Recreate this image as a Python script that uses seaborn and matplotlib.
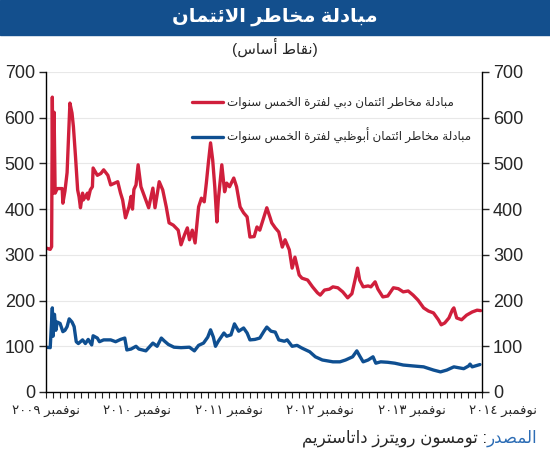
import numpy as np
import seaborn as sns
import matplotlib.pyplot as plt
from matplotlib.patches import Rectangle
from matplotlib.lines import Line2D
import matplotlib.transforms as mtransforms

# months counted from Nov 2009, values in basis points
dubai_month = [0.0, 0.6, 0.8, 0.9, 1.0, 1.15, 1.3, 1.6, 2.3, 2.4, 2.7, 3.0, 3.4, 3.7, 3.9, 4.2,
               4.5, 4.7, 4.9, 5.2, 5.3, 5.9, 6.0, 6.3, 6.6, 6.7, 7.3, 7.8, 8.2, 8.8, 9.2, 10.2,
               10.6, 10.9, 11.3, 11.8, 12.1, 12.3, 12.5, 12.8, 13.1, 13.5, 14.2, 14.6, 15.2, 15.5,
               16.1, 16.6, 17.1, 17.5, 18.1, 18.8, 19.2, 19.7, 20.1, 20.4, 20.8, 21.2, 21.7, 22.1,
               22.5, 22.8, 23.1, 23.4, 23.7, 24.0, 24.3, 24.5, 25.0, 25.4, 25.7, 26.1, 26.7, 27.1,
               27.6, 28.1, 28.6, 29.0, 29.6, 30.0, 30.4, 31.0, 31.4, 31.9, 32.1, 32.6, 33.1, 33.6,
               34.0, 34.6, 35.0, 35.4, 36.0, 36.4, 37.2, 37.9, 38.6, 39.0, 39.6, 40.3, 40.8, 41.5,
               42.2, 42.9, 43.5, 44.0, 44.3, 44.6, 45.1, 45.8, 46.2, 46.8, 47.2, 47.9, 48.6, 49.4,
               50.1, 50.8, 51.5, 52.2, 52.9, 53.7, 54.4, 55.1, 55.8, 56.2, 56.7, 57.3, 57.8, 58.0,
               58.4, 59.1, 59.8, 60.6, 61.3, 61.8]
dubai_cds = [315, 312, 318, 645, 435, 612, 435, 445, 445, 413, 440, 480, 632, 610, 580, 514,
             442, 427, 403, 435, 420, 435, 422, 442, 449, 490, 474, 478, 486, 474, 453, 460,
             435, 420, 381, 405, 428, 400, 443, 453, 497, 449, 420, 403, 446, 403,
             460, 442, 405, 370, 365, 354, 322, 344, 359, 333, 354, 326, 405, 424,
             416, 457, 503, 545, 508, 449, 372, 420, 497, 438, 457, 449, 468, 449,
             405, 392, 383, 339, 340, 361, 354, 383, 403, 380, 370, 359, 350, 317,
             333, 311, 271, 295, 256, 249, 245, 230, 217, 212, 223, 225, 230, 228,
             219, 206, 215, 249, 271, 245, 230, 232, 230, 241, 225, 208, 210, 228,
             226, 219, 221, 212, 201, 184, 177, 173, 158, 147, 151, 162, 180, 184,
             162, 158, 168, 175, 179, 178]

abudhabi_month = [0.0, 0.6, 0.9, 1.0, 1.2, 1.4, 1.6, 2.0, 2.4, 2.7, 3.0, 3.3, 3.7, 4.0, 4.3, 4.6,
                  5.2, 5.6, 6.0, 6.5, 6.7, 7.3, 7.6, 8.2, 9.2, 9.9, 10.6, 11.2, 11.5, 12.1, 12.8,
                  13.2, 14.2, 15.2, 15.8, 16.4, 16.8, 17.4, 18.2, 19.2, 20.4, 21.1, 21.7, 22.4,
                  23.0, 23.4, 23.8, 24.1, 24.5, 25.3, 25.7, 26.3, 26.8, 27.4, 28.1, 28.6, 29.0,
                  29.7, 30.4, 31.0, 31.4, 32.0, 32.6, 33.1, 33.9, 34.3, 35.0, 35.7, 36.4, 37.5,
                  38.3, 39.3, 40.8, 41.8, 42.6, 43.6, 44.2, 44.6, 45.1, 45.8, 46.5, 46.9, 47.6,
                  48.6, 49.6, 50.8, 52.2, 53.7, 55.1, 56.1, 57.0, 58.0, 58.7, 59.4, 60.1, 60.3,
                  60.6, 61.7]
abudhabi_cds = [98, 97, 184, 122, 170, 135, 153, 150, 132, 135, 143, 160, 153, 143, 110, 106,
                114, 106, 115, 103, 123, 118, 110, 114, 114, 110, 115, 118, 92, 94, 100,
                94, 90, 107, 100, 118, 112, 104, 98, 97, 98, 90, 102, 107,
                120, 136, 120, 100, 111, 129, 122, 125, 149, 133, 140, 129, 114,
                115, 118, 133, 142, 133, 131, 114, 111, 114, 100, 102, 96, 88,
                77, 70, 66, 66, 70, 77, 90, 79, 66, 70, 77, 63, 66,
                65, 63, 59, 57, 55, 48, 44, 48, 55, 53, 51, 57, 61,
                55, 60]

year_labels = ['نوفمبر ٢٠٠٩', 'نوفمبر ٢٠١٠', 'نوفمبر ٢٠١١',
               'نوفمبر ٢٠١٢', 'نوفمبر ٢٠١٣', 'نوفمبر ٢٠١٤']
label_month = [0, 13, 26, 39, 52, 65]

title = 'مبادلة مخاطر الائتمان'
subtitle = '(نقاط أساس)'
dubai_label = 'مبادلة مخاطر ائتمان دبي لفترة الخمس سنوات'
abudhabi_label = 'مبادلة مخاطر ائتمان أبوظبي لفترة الخمس سنوات'
source_head = 'المصدر'
source_body = ': تومسون رويترز داتاستريم'

RED = '#d01f3c'
BLUE = '#0f4f91'

# matplotlib has no arabic shaping, so do it by hand with presentation forms
# (isolated, final, initial, medial)
FORMS = {
    'ا': ('\uFE8D', '\uFE8E', None, None),
    'أ': ('\uFE83', '\uFE84', None, None),
    'ب': ('\uFE8F', '\uFE90', '\uFE91', '\uFE92'),
    'ة': ('\uFE93', '\uFE94', None, None),
    'ت': ('\uFE95', '\uFE96', '\uFE97', '\uFE98'),
    'خ': ('\uFEA5', '\uFEA6', '\uFEA7', '\uFEA8'),
    'د': ('\uFEA9', '\uFEAA', None, None),
    'ر': ('\uFEAD', '\uFEAE', None, None),
    'ز': ('\uFEAF', '\uFEB0', None, None),
    'س': ('\uFEB1', '\uFEB2', '\uFEB3', '\uFEB4'),
    'ص': ('\uFEB9', '\uFEBA', '\uFEBB', '\uFEBC'),
    'ط': ('\uFEC1', '\uFEC2', '\uFEC3', '\uFEC4'),
    'ظ': ('\uFEC5', '\uFEC6', '\uFEC7', '\uFEC8'),
    'ف': ('\uFED1', '\uFED2', '\uFED3', '\uFED4'),
    'ق': ('\uFED5', '\uFED6', '\uFED7', '\uFED8'),
    'ل': ('\uFEDD', '\uFEDE', '\uFEDF', '\uFEE0'),
    'م': ('\uFEE1', '\uFEE2', '\uFEE3', '\uFEE4'),
    'ن': ('\uFEE5', '\uFEE6', '\uFEE7', '\uFEE8'),
    'و': ('\uFEED', '\uFEEE', None, None),
    'ي': ('\uFEF1', '\uFEF2', '\uFEF3', '\uFEF4'),
    'ئ': ('\uFE89', '\uFE8A', '\uFE8B', '\uFE8C'),
    '\uFEFB': ('\uFEFB', '\uFEFC', None, None),
    '\uFEF7': ('\uFEF7', '\uFEF8', None, None),
}


def rtl(s):
    s = s.replace('لا', '\uFEFB').replace('لأ', '\uFEF7')
    glyphs = []
    for i, c in enumerate(s):
        if c not in FORMS:
            glyphs.append(c)
            continue
        prev = s[i - 1] if i > 0 else ''
        nxt = s[i + 1] if i + 1 < len(s) else ''
        jp = prev in FORMS and FORMS[prev][2] is not None
        jn = nxt in FORMS and FORMS[c][2] is not None
        iso, fin, ini, med = FORMS[c]
        glyphs.append(med if jp and jn else fin if jp else ini if jn else iso)
    # reverse for display, digits stay left to right
    runs = []
    for g in glyphs:
        if g.isdigit() and runs and runs[-1][0].isdigit():
            runs[-1] += g
        else:
            runs.append(g)
    out = ''.join(reversed(runs))
    return out.translate(str.maketrans('()', ')('))


sns.set_style('white')
plt.rcParams['font.family'] = ['Liberation Sans', 'DejaVu Sans']

fig = plt.figure(figsize=(5.5, 4.5), dpi=100)
ax = fig.add_axes([46 / 550, 1 - 392 / 450, 436 / 550, 320 / 450])

sns.lineplot(x=dubai_month, y=dubai_cds, color=RED, lw=2.4, estimator=None, ax=ax)
sns.lineplot(x=abudhabi_month, y=abudhabi_cds, color=BLUE, lw=2.4, estimator=None, ax=ax)

ax.set_xlim(0, 62)
ax.set_ylim(0, 700)
ax.set_yticks(range(0, 701, 100))
ax.set_xticks(range(0, 63))
ax.set_xticklabels([])
ax.yaxis.grid(True, color='#e8e8e8', lw=0.8)
ax.set_axisbelow(True)
for side in ['left', 'right', 'bottom']:
    ax.spines[side].set_color('black')
    ax.spines[side].set_linewidth(1.0)
ax.spines['top'].set_visible(False)
ax.tick_params(axis='y', left=True, right=True, labelleft=True, labelright=True,
               direction='out', length=5, width=1, labelsize=13, pad=3)
ax.tick_params(axis='x', bottom=True, direction='out', length=4, width=0.8)

trans = mtransforms.blended_transform_factory(ax.transData, ax.transAxes)
for m, lab in zip(label_month, year_labels):
    ax.text(m, -0.058, rtl(lab), transform=trans, ha='center', va='center',
            fontsize=9.5, clip_on=False)

handles = [Line2D([], [], color=RED, lw=2.4), Line2D([], [], color=BLUE, lw=2.4)]
ax.legend(handles, [rtl(dubai_label), rtl(abudhabi_label)], loc='upper left',
          bbox_to_anchor=(0.31, 0.955), frameon=False, fontsize=8.6,
          handlelength=2.6, handletextpad=0.3, labelspacing=1.6)

# title band
fig.patches.append(Rectangle((0, 1 - 35 / 450), 1, 35 / 450, transform=fig.transFigure,
                             color='#134f8d', zorder=0))
fig.text(0.5, 1 - 17 / 450, rtl(title), color='white', fontsize=14, fontweight='bold',
         ha='center', va='center')
fig.text(0.5, 1 - 47 / 450, rtl(subtitle), fontsize=11, ha='center', va='center')

head = fig.text(0.977, 1 - 438 / 450, rtl(source_head), color='#2d6db5', fontsize=12,
                ha='right', va='center')
ax.annotate(rtl(source_body), xy=(0, 0.5), xycoords=head, ha='right', va='center',
            fontsize=12, annotation_clip=False)

fig.savefig('out.png', dpi=100)
